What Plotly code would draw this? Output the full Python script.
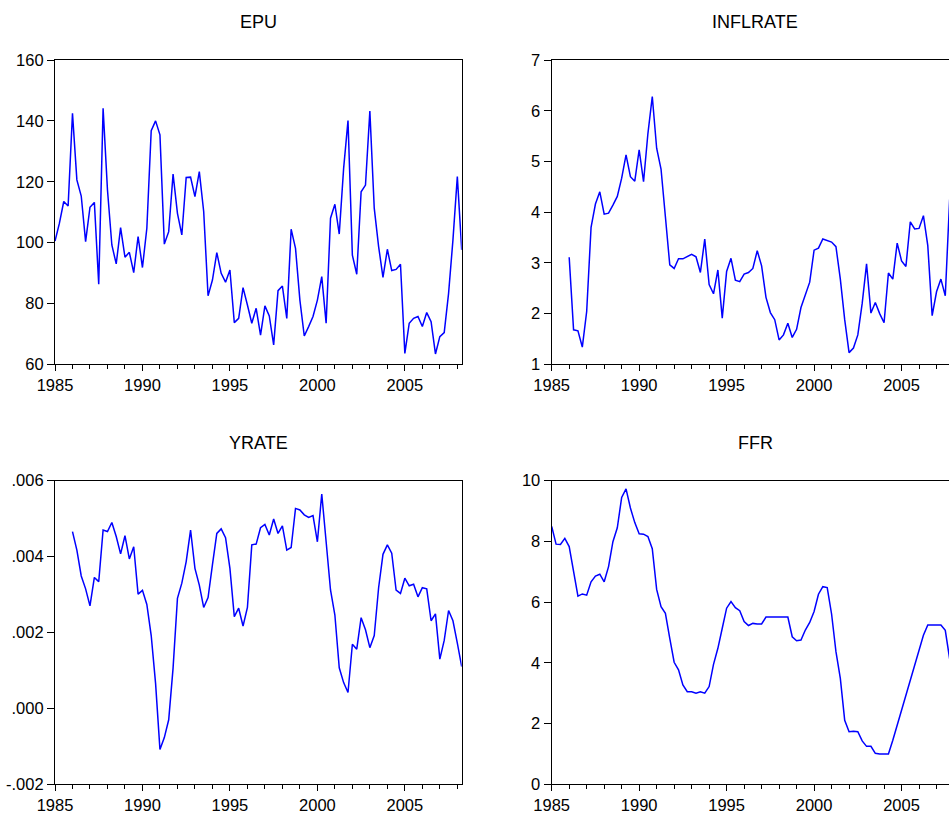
import plotly.graph_objects as go

# Quarterly observations 1985Q1 .. 2008Q2
start_year = 1985
n_quarters = 94
quarters = [start_year + i / 4 for i in range(n_quarters)]

epu = [100.5, 106.3, 113.5, 112.0,
       142.5, 120.6, 115.3, 100.3,
       111.6, 113.2, 86.3, 144.1,
       117.3, 99.2, 93.0, 104.9,
       95.2, 96.8, 90.1, 102.0,
       91.8, 104.7, 136.8, 140.0,
       135.4, 99.5, 103.6, 122.5,
       109.6, 102.5, 121.4, 121.5,
       115.1, 123.3, 110.2, 82.5,
       87.7, 96.7, 89.9, 87.0,
       91.0, 73.7, 75.1, 85.2,
       79.5, 73.5, 78.4, 69.6,
       79.2, 75.9, 66.4, 84.2,
       85.7, 75.1, 104.4, 98.1,
       81.1, 69.3, 72.4, 75.7,
       81.1, 88.8, 73.5, 108.0,
       112.6, 102.8, 124.4, 140.1,
       95.9, 89.6, 116.7, 118.9,
       143.2, 111.3, 98.7, 88.6,
       97.8, 90.8, 91.2, 92.9,
       63.6, 73.5, 75.1, 75.7,
       72.4, 77.0, 74.0, 63.4,
       69.1, 70.4, 83.3, 100.9,
       121.7, 97.6]

inflrate = [None, None, None, None,
            3.11, 1.68, 1.66, 1.34,
            2.04, 3.70, 4.16, 4.40,
            3.96, 3.98, 4.14, 4.31,
            4.67, 5.13, 4.70, 4.61,
            5.23, 4.60, 5.55, 6.28,
            5.26, 4.85, 3.91, 2.96,
            2.89, 3.08, 3.08, 3.12,
            3.17, 3.12, 2.81, 3.47,
            2.57, 2.39, 2.86, 1.91,
            2.83, 3.09, 2.66, 2.63,
            2.78, 2.81, 2.89, 3.24,
            2.94, 2.32, 2.02, 1.88,
            1.48, 1.58, 1.81, 1.53,
            1.69, 2.12, 2.35, 2.62,
            3.25, 3.29, 3.47, 3.44,
            3.41, 3.32, 2.68, 1.88,
            1.23, 1.32, 1.58, 2.20,
            2.98, 2.01, 2.22, 2.00,
            1.82, 2.80, 2.68, 3.39,
            3.04, 2.93, 3.81, 3.67,
            3.68, 3.93, 3.34, 1.96,
            2.43, 2.68, 2.35, 4.25,
            4.15, 4.30]

yrate = [None, None, None, None,
         0.00466, 0.00417, 0.00349, 0.00315,
         0.00270, 0.00345, 0.00334, 0.00470,
         0.00466, 0.00490, 0.00453, 0.00407,
         0.00455, 0.00394, 0.00426, 0.00301,
         0.00311, 0.00274, 0.00192, 0.00066,
         -0.00108, -0.00077, -0.00030, 0.00106,
         0.00290, 0.00330, 0.00387, 0.00470,
         0.00369, 0.00325, 0.00266, 0.00292,
         0.00378, 0.00461, 0.00473, 0.00450,
         0.00369, 0.00242, 0.00264, 0.00217,
         0.00266, 0.00431, 0.00433, 0.00476,
         0.00485, 0.00457, 0.00499, 0.00461,
         0.00481, 0.00417, 0.00424, 0.00527,
         0.00523, 0.00510, 0.00503, 0.00508,
         0.00439, 0.00565, 0.00439, 0.00312,
         0.00246, 0.00107, 0.00068, 0.00042,
         0.00169, 0.00156, 0.00239, 0.00207,
         0.00160, 0.00192, 0.00318, 0.00406,
         0.00431, 0.00409, 0.00312, 0.00303,
         0.00343, 0.00323, 0.00327, 0.00294,
         0.00318, 0.00315, 0.00231, 0.00249,
         0.00130, 0.00179, 0.00258, 0.00231,
         0.00172, 0.00110]

ffr = [8.49, 7.91, 7.90, 8.10,
       7.83, 6.95, 6.20, 6.27,
       6.23, 6.67, 6.86, 6.92,
       6.67, 7.17, 7.99, 8.45,
       9.45, 9.73, 9.10, 8.62,
       8.25, 8.24, 8.16, 7.76,
       6.42, 5.85, 5.63, 4.81,
       4.02, 3.77, 3.27, 3.05,
       3.05, 3.00, 3.05, 3.00,
       3.22, 3.95, 4.48, 5.14,
       5.80, 6.02, 5.82, 5.72,
       5.36, 5.23, 5.30, 5.28,
       5.28, 5.51, 5.52, 5.51,
       5.51, 5.51, 5.51, 4.86,
       4.73, 4.75, 5.08, 5.33,
       5.69, 6.26, 6.51, 6.48,
       5.61, 4.37, 3.49, 2.11,
       1.73, 1.75, 1.73, 1.43,
       1.25, 1.25, 1.02, 1.00,
       1.00, 1.00, 1.45, 1.95,
       2.47, 2.95, 3.45, 3.98,
       4.46, 4.91, 5.25, 5.25,
       5.26, 5.25, 5.07, 4.20,
       3.20, 2.10]

titles = ["EPU", "INFLRATE", "YRATE", "FFR"]
series = [epu, inflrate, yrate, ffr]

x_tickvals = [1985, 1990, 1995, 2000, 2005]
x_ticktext = ["1985", "1990", "1995", "2000", "2005"]

y_ranges = [[60, 160], [1, 7], [-0.002, 0.006], [0, 10]]
y_tickvals = [[60, 80, 100, 120, 140, 160],
              [1, 2, 3, 4, 5, 6, 7],
              [-0.002, 0.000, 0.002, 0.004, 0.006],
              [0, 2, 4, 6, 8, 10]]
y_ticktext = [["60", "80", "100", "120", "140", "160"],
              ["1", "2", "3", "4", "5", "6", "7"],
              ["-.002", ".000", ".002", ".004", ".006"],
              ["0", "2", "4", "6", "8", "10"]]

W, H = 949, 814
px_per_year = (461.7 - 55.0) / 23.25
# panel boxes in pixels: (left, right, top, bottom)
boxes = [(55.0, 461.7, 60.0, 364.3),
         (551.7, 949.0, 60.0, 364.3),
         (55.0, 461.7, 480.7, 784.3),
         (551.7, 949.0, 480.7, 784.3)]

fig = go.Figure()
font_family = "Liberation Sans, Arial, Helvetica, sans-serif"

for i, (title, ys) in enumerate(zip(titles, series)):
    l, r, t, b = boxes[i]
    n = "" if i == 0 else str(i + 1)
    fig.add_trace(go.Scatter(
        x=quarters, y=ys, mode="lines",
        line=dict(color="#0000FF", width=1.5),
        xaxis="x" + n, yaxis="y" + n, showlegend=False,
        connectgaps=False))
    x_end = 1985 + (r - l) / px_per_year
    right_side = i in (1, 3)
    fig.layout["xaxis" + n] = dict(
        domain=[l / W, r / W], range=[1985, x_end], anchor="y" + n,
        automargin=False,
        tickvals=x_tickvals, ticktext=x_ticktext,
        ticks="outside", ticklen=6, tickwidth=1, tickcolor="black",
        minor=dict(dtick=1, tick0=1985, ticks="outside", ticklen=4,
                   tickwidth=1, tickcolor="black"),
        showline=True, linecolor="black", linewidth=1.2, mirror=True,
        showgrid=False, zeroline=False,
        tickfont=dict(size=16.5, color="black", family=font_family))
    fig.layout["yaxis" + n] = dict(
        domain=[1 - b / H, 1 - t / H], range=y_ranges[i], anchor="x" + n,
        automargin=False,
        tickvals=y_tickvals[i], ticktext=y_ticktext[i],
        ticks="outside", ticklen=7, tickwidth=1, tickcolor="black",
        showline=True, linecolor="black", linewidth=1.2,
        mirror=(not right_side),
        showgrid=False, zeroline=False,
        tickfont=dict(size=16.5, color="black", family=font_family))
    full_r = l + 23.25 * px_per_year
    fig.add_annotation(
        text=title, x=((l + full_r) / 2) / W, y=1 - (t - 38) / H,
        xref="paper", yref="paper", showarrow=False,
        xanchor="center", yanchor="middle",
        font=dict(size=18, color="black", family=font_family))

fig.update_layout(
    width=W, height=H,
    margin=dict(l=0, r=0, t=0, b=0, autoexpand=False),
    paper_bgcolor="white", plot_bgcolor="white",
)

fig.write_html("out.html")
